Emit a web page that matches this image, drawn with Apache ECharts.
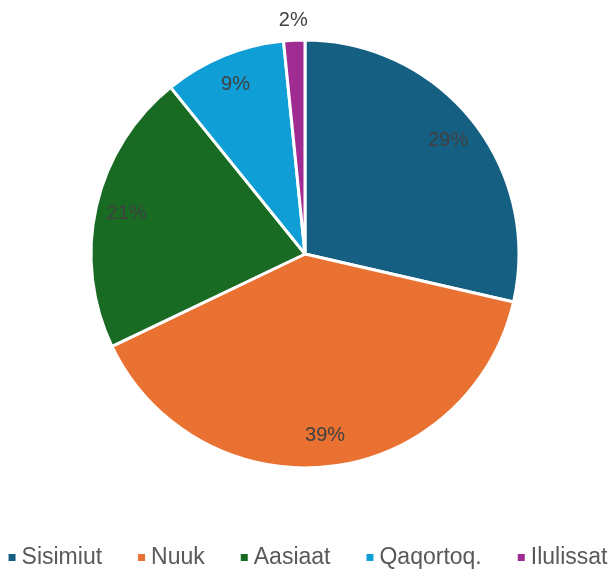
<!DOCTYPE html>
<html>
<head>
<meta charset="utf-8">
<script src="https://cdn.jsdelivr.net/npm/echarts@6/dist/echarts.min.js"></script>
<style>
  html, body { margin: 0; padding: 0; background: #fff; }
  #chart { width: 614px; height: 570px; }
</style>
</head>
<body>
<div id="chart"></div>
<script>
var categories = ['Sisimiut', 'Nuuk', 'Aasiaat', 'Qaqortoq.', 'Ilulissat'];
var shares = [28.6, 39.3, 21.3, 9.2, 1.6];
var colors = ['#156082', '#E97132', '#196B24', '#0F9ED5', '#A02B93'];

var chart = echarts.init(document.getElementById('chart'));

var center = [305, 254];
var font = 'Liberation Sans, Arial, sans-serif';

function pct(p) {
    return Math.round(p.percent) + '%';
}

// transparent copies of the pie, used only to push the labels outwards
function labelSeries(outerRadius, showSmall) {
    return {
        type: 'pie',
        center: center,
        radius: [0, outerRadius],
        startAngle: 90,
        clockwise: true,
        silent: true,
        legendHoverLink: false,
        data: categories.map(function (name, i) {
            var small = shares[i] < 5;
            return { name: name, value: shares[i], label: { show: showSmall ? small : !small } };
        }),
        itemStyle: { color: 'rgba(0,0,0,0)', borderWidth: 0 },
        label: {
            position: 'inside',
            formatter: pct,
            color: '#404040',
            fontSize: 20,
            fontFamily: font
        },
        labelLine: { show: false },
        emphasis: { disabled: true }
    };
}

chart.setOption({
    animation: false,
    color: colors,
    legend: {
        top: 541,
        left: 'center',
        width: 614,
        icon: 'rect',
        itemWidth: 9,
        itemHeight: 9,
        itemGap: 34,
        textStyle: { color: '#595959', fontSize: 23, fontFamily: font },
        data: categories
    },
    series: [{
        type: 'pie',
        center: center,
        radius: [0, 214],
        startAngle: 90,
        clockwise: true,
        data: categories.map(function (name, i) {
            return { name: name, value: shares[i] };
        }),
        itemStyle: { borderColor: '#fff', borderWidth: 3 },
        label: { show: false },
        labelLine: { show: false },
        emphasis: { disabled: true }
    },
    labelSeries(360, false),
    labelSeries(462, true)]
});
</script>
</body>
</html>
